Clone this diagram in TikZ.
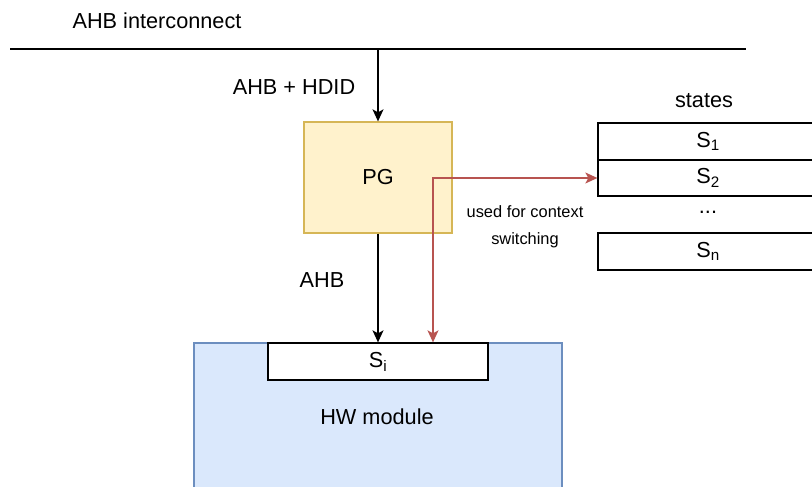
\documentclass[tikz,border=0pt]{standalone}
\usepackage{fontspec}
\setmainfont{Liberation Sans}
\usetikzlibrary{arrows.meta}
\definecolor{pgfill}{HTML}{FFF2CC}
\definecolor{pgdraw}{HTML}{D6B656}
\definecolor{hwfill}{HTML}{DAE8FC}
\definecolor{hwdraw}{HTML}{6C8EBF}
\definecolor{redl}{HTML}{B85450}
\tikzset{
  big/.style={font=\fontsize{21.7}{26}\selectfont},
  small/.style={font=\fontsize{16.4}{27}\selectfont},
  box/.style={draw=black, line width=1.3pt, fill=white, inner sep=0pt, big},
  arr/.style={line width=1.3pt, -{Stealth[length=12pt,width=11pt,inset=3pt]}},
  rarr/.style={draw=redl, line width=1.3pt, {Stealth[length=12pt,width=11pt,inset=3pt]}-{Stealth[length=12pt,width=11pt,inset=3pt]}},
}
\begin{document}
\begin{tikzpicture}[x=1pt,y=-1pt]
\useasboundingbox (0,0) rectangle (812,487);
% bus
\coordinate (busl) at (10,49);
\coordinate (busr) at (746,49);
\draw[line width=1.3pt] (busl) -- (busr);
\node[big] (bustxt) at (157,21) {AHB interconnect};
% PG
\node[draw=pgdraw, fill=pgfill, line width=1.3pt, minimum width=148pt, minimum height=111pt, inner sep=0pt, big] (pg) at (378,177.5) {PG};
% HW module
\node[draw=hwdraw, fill=hwfill, line width=1.3pt, minimum width=368pt, minimum height=148pt, inner sep=0pt] (hw) at (378,417) {};
\node[big] (hwtxt) at (377,417) {HW module};
\node[box, minimum width=220pt, minimum height=37pt] (si) at (378,361.5) {S\textsubscript{i}};
% states
\node[big] (states) at (704,101) {states};
\node[box, minimum width=220pt, minimum height=37pt] (s1) at (708,141.5) {S\textsubscript{1}};
\node[box, minimum width=220pt, minimum height=36pt] (s2) at (708,178) {S\textsubscript{2}};
\node[big] (dots) at (708,212) {...};
\node[box, minimum width=220pt, minimum height=37pt] (sn) at (708,251.5) {S\textsubscript{n}};
% arrows
\coordinate (tap) at (378,49);
\draw[arr] (tap) -- (pg.north);
\node[big] (ahbhdid) at (294,87) {AHB + HDID};
\draw[arr] (pg.south) -- (si.north);
\node[big] (ahb) at (322,280) {AHB};
\coordinate (corner) at (433,178);
\draw[rarr] (si.north -| corner) -- (corner) -- (s2.west);
\node[small, align=center] (ctx) at (525,227) {used for context\\switching};
\end{tikzpicture}
\end{document}
